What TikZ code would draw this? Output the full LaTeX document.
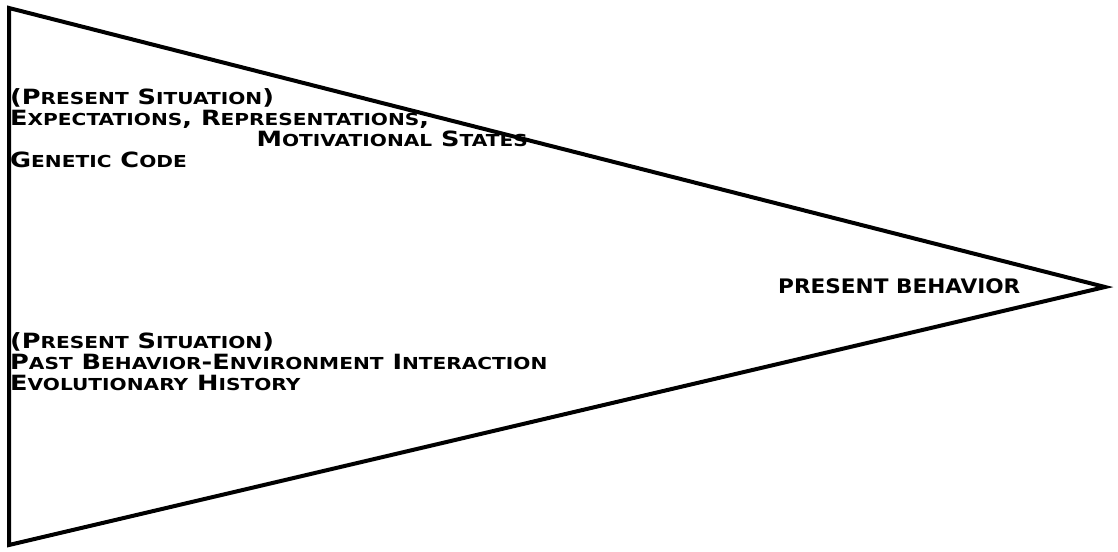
\documentclass[tikz,border=0pt]{standalone}
\usepackage{fontspec}
\setmainfont{DejaVu Sans}[FakeStretch=1.22]
\newfontfamily\outcomefont{DejaVu Sans}[FakeStretch=1.08]
\usepackage{tikz}
\usetikzlibrary{positioning}
% lower part of a fake small-caps word
\newcommand\lc[1]{{\fontsize{16.5}{16.5}\selectfont #1}}
\tikzset{
  pennant/.style={
    draw=black,
    line width=4pt,
    line join=miter
  },
  factor/.style={
    anchor=base west,
    inner sep=0pt,
    font=\fontsize{21}{21}\selectfont\bfseries
  },
  outcome/.style={
    anchor=base west,
    inner sep=0pt,
    font=\outcomefont\fontsize{20}{20}\selectfont\bfseries
  }
}

\begin{document}
\begin{tikzpicture}[x=1pt,y=-1pt]
  \useasboundingbox (0,0) rectangle (1118,551);
  \coordinate (topleft) at (9,8);
  \coordinate (tip) at (1105,287);
  \coordinate (botleft) at (9,545);
  \draw[pennant] (topleft) -- (tip) -- (botleft) -- cycle;
  % upper group
  \node[factor] (sitA) at (10,104) {(P\lc{RESENT} S\lc{ITUATION})};
  \node[factor] (expect) at (10,125) {E\lc{XPECTATIONS}, R\lc{EPRESENTATIONS},};
  \node[factor,anchor=base east] (motiv) at (528,146) {M\lc{OTIVATIONAL} S\lc{TATES}};
  \node[factor] (genetic) at (10,167) {G\lc{ENETIC} C\lc{ODE}};
  % lower group
  \node[factor] (sitB) at (10,348) {(P\lc{RESENT} S\lc{ITUATION})};
  \node[factor] (past) at (10,369) {P\lc{AST} B\lc{EHAVIOR}-E\lc{NVIRONMENT} I\lc{NTERACTION}};
  \node[factor] (evol) at (10,390) {E\lc{VOLUTIONARY} H\lc{ISTORY}};
  % result
  \node[outcome] (behavior) at (778,293) {PRESENT BEHAVIOR};
\end{tikzpicture}
\end{document}
